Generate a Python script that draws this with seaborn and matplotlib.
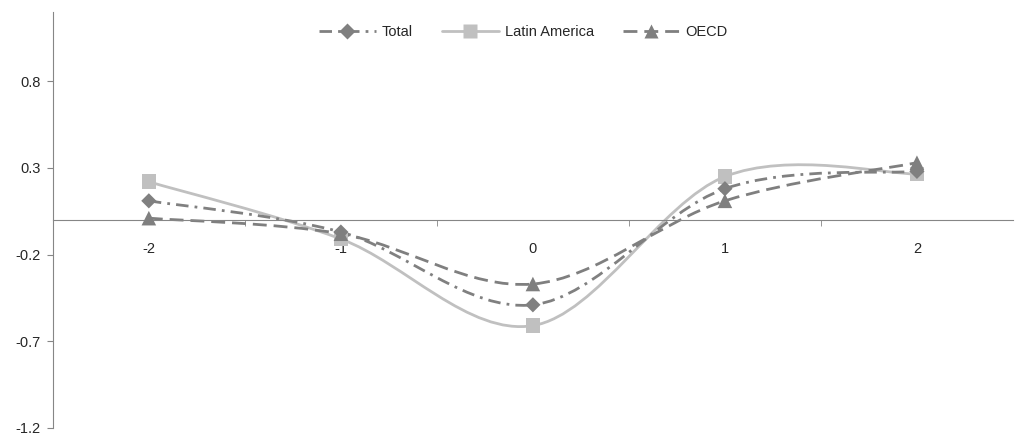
import numpy as np
import pandas as pd
import seaborn as sns
import matplotlib.pyplot as plt
from matplotlib.path import Path
from matplotlib.patches import PathPatch
from matplotlib.lines import Line2D

# data
x_vals = [-2, -1, 0, 1, 2]
total = [0.11, -0.07, -0.49, 0.18, 0.28]
latin_america = [0.22, -0.11, -0.61, 0.25, 0.265]
oecd = [0.01, -0.08, -0.37, 0.11, 0.33]
series_names = ["Total", "Latin America", "OECD"]
y_ticks = [-1.2, -0.7, -0.2, 0.3, 0.8]

colors = {"Total": "#808080", "Latin America": "#c0c0c0", "OECD": "#7f7f7f"}
markers = {"Total": "D", "Latin America": "s", "OECD": "^"}
styles = {"Total": (0, (4.5, 2.2, 1.0, 2.2)), "Latin America": "-", "OECD": (0, (5, 2.5))}
sizes = {"Total": 60, "Latin America": 110, "OECD": 110}

df = pd.DataFrame({
    "x": x_vals * 3,
    "y": total + latin_america + oecd,
    "series": sum([[s] * len(x_vals) for s in series_names], []),
})

sns.set_style("white")
plt.rcParams["font.family"] = ["Liberation Sans", "DejaVu Sans"]

fig = plt.figure(figsize=(10.16, 4.42), dpi=100)
ax = fig.add_axes([0.052, 0.032, 0.945, 0.941])


def smooth_path(xs, ys):
    # excel style smoothed line (cubic bezier through the points)
    pts = np.column_stack([xs, ys]).astype(float)
    n = len(pts)
    verts = [pts[0]]
    codes = [Path.MOVETO]
    for i in range(n - 1):
        p_prev = pts[max(i - 1, 0)]
        p_next2 = pts[min(i + 2, n - 1)]
        c1 = pts[i] + (pts[i + 1] - p_prev) / 6
        c2 = pts[i + 1] - (p_next2 - pts[i]) / 6
        verts += [c1, c2, pts[i + 1]]
        codes += [Path.CURVE4] * 3
    return Path(verts, codes)


for name in ["Latin America", "OECD", "Total"]:
    sub = df[df["series"] == name]
    patch = PathPatch(smooth_path(sub["x"], sub["y"]), facecolor="none",
                      edgecolor=colors[name], lw=2.0, linestyle=styles[name], zorder=2)
    ax.add_patch(patch)

for name in ["Latin America", "Total", "OECD"]:
    sub = df[df["series"] == name]
    sns.scatterplot(data=sub, x="x", y="y", marker=markers[name], color=colors[name],
                    s=sizes[name], edgecolor="none", ax=ax, zorder=3, legend=False)

ax.set_xlim(-2.5, 2.5)
ax.set_ylim(-1.2, 1.2)
ax.set_yticks(y_ticks)
ax.set_yticklabels([f"{v:.1f}" for v in y_ticks])
ax.set_xticks(x_vals)
ax.set_xticklabels([str(v) for v in x_vals])
ax.set_xticks([-1.5, -0.5, 0.5, 1.5], minor=True)
ax.set_xlabel("")
ax.set_ylabel("")

for s in ["top", "right"]:
    ax.spines[s].set_visible(False)
ax.spines["left"].set_color("#868686")
ax.spines["bottom"].set_color("#868686")
ax.spines["bottom"].set_position(("data", 0))

ax.tick_params(axis="y", direction="out", length=4, color="#868686", labelsize=10.5, pad=5, left=True)
ax.tick_params(axis="x", which="major", length=0, labelsize=10.5, pad=16, bottom=True)
ax.tick_params(axis="x", which="minor", direction="out", length=4, color="#868686", bottom=True)

handles = [Line2D([], [], color=colors[n], lw=2.0, linestyle=styles[n], marker=markers[n],
                  markersize=8 if n == "Total" else 9.5, markeredgecolor="none") for n in series_names]
ax.legend(handles, series_names, loc="upper center", bbox_to_anchor=(0.49, 1.0), ncol=3,
          frameon=False, fontsize=10.5, handlelength=3.9, columnspacing=2.0, handletextpad=0.4)

fig.savefig("out.png", dpi=100)
